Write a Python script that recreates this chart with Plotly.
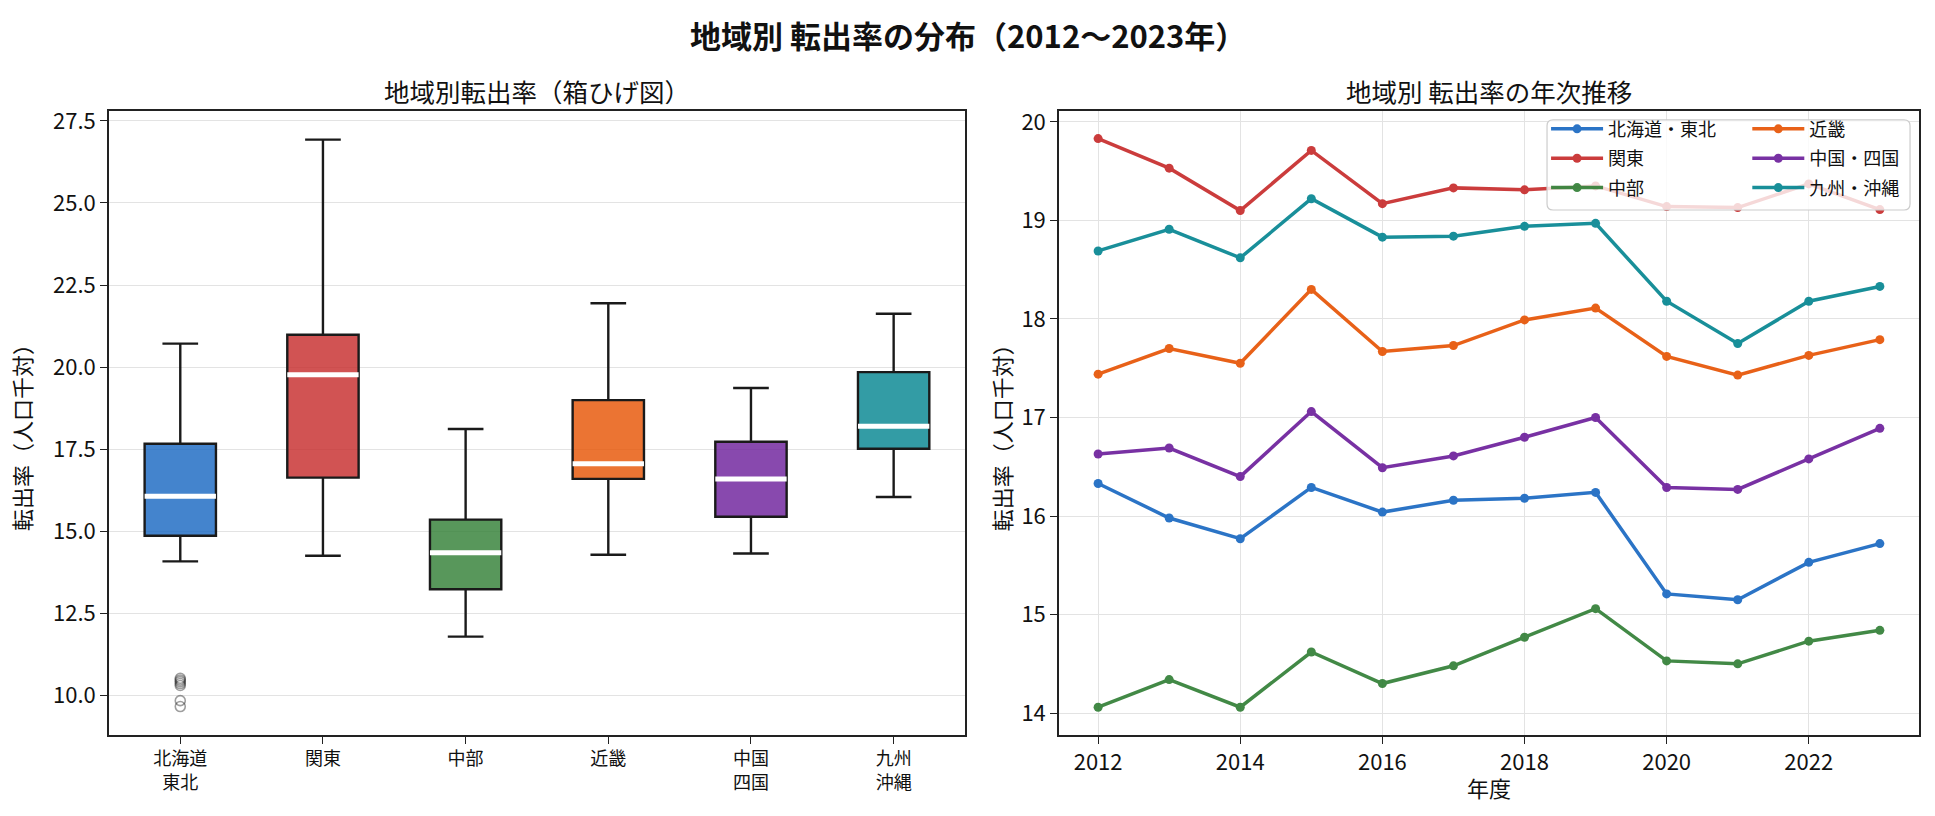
import plotly.graph_objects as go
from plotly.subplots import make_subplots

FONT = "Noto Sans CJK JP"
W, H = 1935, 816

# ---- データ ----
regions = ["北海道・東北", "関東", "中部", "近畿", "中国・四国", "九州・沖縄"]
box_labels = ["北海道<br>東北", "関東", "中部", "近畿", "中国<br>四国", "九州<br>沖縄"]
colors = ["#1565C0", "#C62828", "#2E7D32", "#E65100", "#6A1B9A", "#00838F"]

# 箱ひげ図の統計量
box_lower = [14.09, 14.26, 11.80, 14.29, 14.33, 16.05]
box_q1 = [14.87, 16.64, 13.24, 16.60, 15.45, 17.52]
box_median = [16.07, 19.77, 14.35, 17.06, 16.60, 18.20]
box_q3 = [17.67, 20.99, 15.36, 19.00, 17.73, 19.85]
box_upper = [20.72, 26.93, 18.12, 21.95, 19.37, 21.63]
outliers_hokkaido = [10.53, 10.48, 10.43, 10.37, 10.31, 9.85, 9.67]

# 年次推移
years = [2012, 2013, 2014, 2015, 2016, 2017, 2018, 2019, 2020, 2021, 2022, 2023]
rate_hokkaido = [16.33, 15.98, 15.77, 16.29, 16.04, 16.16, 16.18, 16.24, 15.21, 15.15, 15.53, 15.72]
rate_kanto = [19.83, 19.53, 19.10, 19.71, 19.17, 19.33, 19.31, 19.35, 19.14, 19.13, 19.37, 19.11]
rate_chubu = [14.06, 14.34, 14.06, 14.62, 14.30, 14.48, 14.77, 15.06, 14.53, 14.50, 14.73, 14.84]
rate_kinki = [17.44, 17.70, 17.55, 18.30, 17.67, 17.73, 17.99, 18.11, 17.62, 17.43, 17.63, 17.79]
rate_chugoku = [16.63, 16.69, 16.40, 17.06, 16.49, 16.61, 16.80, 17.00, 16.29, 16.27, 16.58, 16.89]
rate_kyushu = [18.69, 18.91, 18.62, 19.22, 18.83, 18.84, 18.94, 18.97, 18.18, 17.75, 18.18, 18.33]
series = [rate_hokkaido, rate_kanto, rate_chubu, rate_kinki, rate_chugoku, rate_kyushu]


def rgba(hex_color, a):
    h = hex_color.lstrip("#")
    r, g, b = int(h[0:2], 16), int(h[2:4], 16), int(h[4:6], 16)
    return f"rgba({r},{g},{b},{a})"


def rounded_rect(x0, y0, x1, y1, r_px):
    # 角丸の凡例枠（paper座標）
    rx, ry = r_px / W, r_px / H
    return (f"M {x0 + rx},{y0} L {x1 - rx},{y0} Q {x1},{y0} {x1},{y0 + ry} "
            f"L {x1},{y1 - ry} Q {x1},{y1} {x1 - rx},{y1} "
            f"L {x0 + rx},{y1} Q {x0},{y1} {x0},{y1 - ry} "
            f"L {x0},{y0 + ry} Q {x0},{y0} {x0 + rx},{y0} Z")


fig = make_subplots(rows=1, cols=2)

# ---- 左：箱ひげ図 ----
for i in range(len(regions)):
    fig.add_trace(go.Box(
        x=[box_labels[i]],
        q1=[box_q1[i]], median=[box_median[i]], q3=[box_q3[i]],
        lowerfence=[box_lower[i]], upperfence=[box_upper[i]],
        width=0.5, whiskerwidth=0.5,
        fillcolor=rgba(colors[i], 0.8),
        line=dict(color="#1a1a1a", width=2.4),
        boxpoints=False, showlegend=False, name=regions[i],
    ), row=1, col=1)

# 中央値（白線）
for i in range(len(regions)):
    fig.add_trace(go.Box(
        x=[box_labels[i]],
        q1=[box_median[i]], median=[box_median[i]], q3=[box_median[i]],
        lowerfence=[box_median[i]], upperfence=[box_median[i]],
        width=0.5, whiskerwidth=0,
        fillcolor="rgba(0,0,0,0)",
        line=dict(color="white", width=5),
        boxpoints=False, showlegend=False, hoverinfo="skip",
    ), row=1, col=1)

# 外れ値
fig.add_trace(go.Scatter(
    x=[box_labels[0]] * len(outliers_hokkaido), y=outliers_hokkaido,
    mode="markers",
    marker=dict(symbol="circle-open", size=10, color="rgba(40,40,40,0.45)",
                line=dict(width=1.6)),
    showlegend=False,
), row=1, col=1)

# ---- 右：年次推移 ----
legend_ids = ["legend", "legend", "legend", "legend2", "legend2", "legend2"]
for i in range(len(regions)):
    fig.add_trace(go.Scatter(
        x=years, y=series[i],
        mode="lines+markers", name=regions[i], legendgroup=regions[i],
        line=dict(color=colors[i], width=3.5),
        marker=dict(size=9, color=colors[i]),
        opacity=0.9, legend=legend_ids[i],
    ), row=1, col=2)

axis_common = dict(
    showline=True, linecolor="#222222", linewidth=1.6, mirror=True,
    ticks="outside", ticklen=7, tickwidth=1.4, tickcolor="#222222",
    tickfont=dict(family=FONT, size=22, color="#111111"),
    zeroline=False,
)

fig.update_xaxes(axis_common)
fig.update_yaxes(axis_common)

fig.update_xaxes(domain=[0.0563, 0.4987], range=[-0.5, 5.5], showgrid=False,
                 tickfont=dict(size=18), row=1, col=1)
fig.update_yaxes(domain=[0.1005, 0.8725], range=[8.81, 27.8], dtick=2.5, tick0=0,
                 tickformat=".1f", showgrid=True, gridcolor="#e3e3e3", gridwidth=1.2,
                 row=1, col=1)

fig.update_xaxes(domain=[0.5473, 0.9917], range=[2011.45, 2023.55], dtick=2, tick0=2012,
                 showgrid=True, gridcolor="#e3e3e3", gridwidth=1.2, row=1, col=2)
fig.update_yaxes(domain=[0.1005, 0.8725], range=[13.78, 20.11], dtick=1,
                 showgrid=True, gridcolor="#e3e3e3", gridwidth=1.2, row=1, col=2)

annotations = [
    dict(text="<b>地域別 転出率の分布（2012〜2023年）</b>", x=0.5, y=0.967,
         font=dict(size=31)),
    dict(text="地域別転出率（箱ひげ図）", x=(0.0563 + 0.4987) / 2, y=0.898,
         font=dict(size=25.5)),
    dict(text="地域別 転出率の年次推移", x=(0.5473 + 0.9917) / 2, y=0.898,
         font=dict(size=25.5)),
    dict(text="転出率（人口千対）", x=0.0105, y=0.4755, textangle=-90,
         font=dict(size=22)),
    dict(text="転出率（人口千対）", x=0.517, y=0.4755, textangle=-90,
         font=dict(size=22)),
    dict(text="年度", x=0.7695, y=0.036, font=dict(size=22)),
]
for a in annotations:
    a.update(xref="paper", yref="paper", showarrow=False,
             xanchor="center", yanchor="middle")
    a["font"].update(family=FONT, color="#111111")

legend_style = dict(
    bgcolor="rgba(0,0,0,0)", borderwidth=0,
    font=dict(family=FONT, size=18, color="#111111"),
    yanchor="top", xanchor="left", tracegroupgap=3, itemwidth=52,
)

fig.update_layout(
    width=W, height=H,
    margin=dict(l=0, r=0, t=0, b=0),
    paper_bgcolor="white", plot_bgcolor="white",
    font=dict(family=FONT, color="#111111"),
    boxmode="overlay",
    annotations=annotations,
    legend=dict(legend_style, x=0.799, y=0.873),
    legend2=dict(legend_style, x=0.903, y=0.873),
    shapes=[dict(
        type="path", xref="paper", yref="paper", layer="above",
        path=rounded_rect(0.7995, 0.750, 0.9871, 0.8615, 6),
        fillcolor="rgba(255,255,255,0.8)", line=dict(color="#cccccc", width=1.2),
    )],
)

# ページ余白をなくす
fig.write_html("out.html", config={"displayModeBar": False},
               post_script="document.body.style.margin='0';")
